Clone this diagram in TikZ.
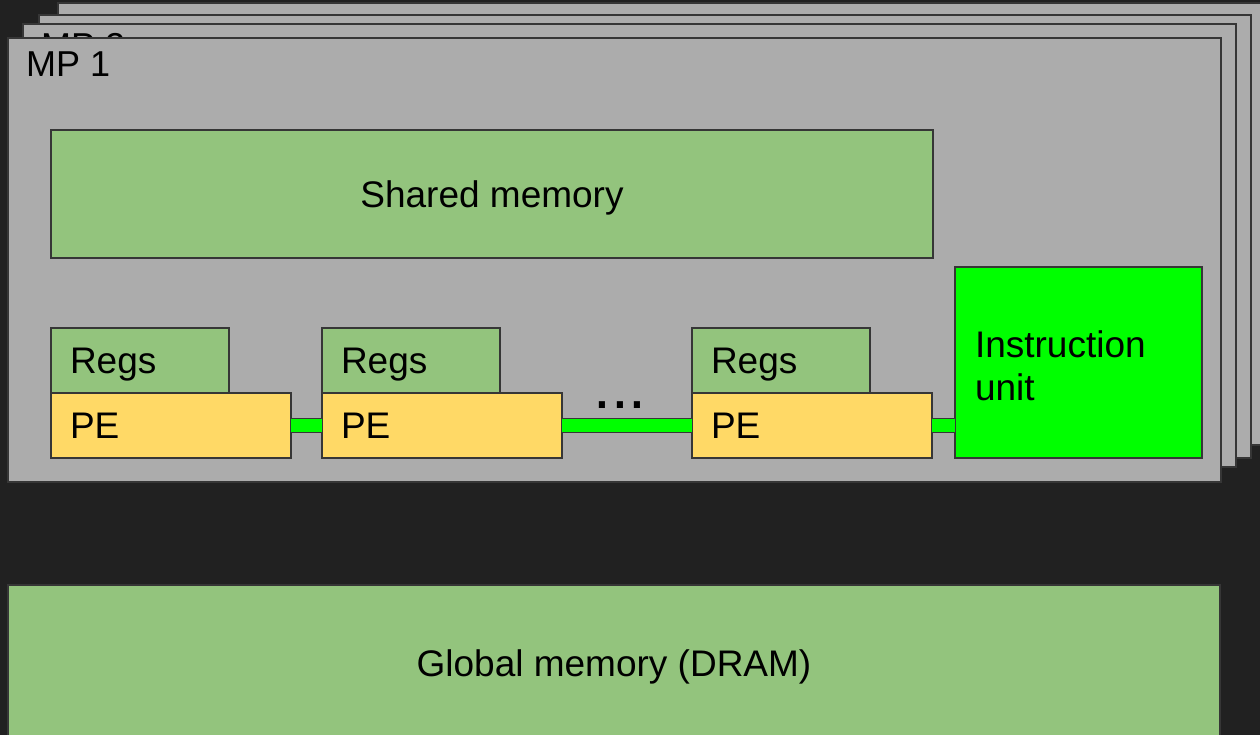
\documentclass[tikz,border=0pt]{standalone}
\usepackage{fontspec}
\setmainfont{Liberation Sans}
\definecolor{bg}{HTML}{212121}
\definecolor{mpgray}{HTML}{ACACAC}
\definecolor{edge}{HTML}{363636}
\definecolor{memgreen}{HTML}{93C47D}
\definecolor{pefill}{HTML}{FFD966}
\definecolor{iugreen}{HTML}{00FF00}
\begin{document}
\begin{tikzpicture}[x=1pt,y=-1pt,
  base/.style={draw=edge, line width=1.5pt, anchor=north west, inner sep=0pt, outer sep=0pt,
    font=\fontsize{37}{43}\selectfont},
  capc/.style={text height=26.5pt, text depth=0pt},
  mpbox/.style={base, fill=mpgray},
  membox/.style={base, capc, fill=memgreen, align=center},
  regbox/.style={base, capc, fill=memgreen, text width=140pt, inner xsep=19pt, align=left, minimum height=65pt},
  pebox/.style={base, capc, fill=pefill, text width=202pt, inner xsep=19pt, align=left, minimum height=65pt},
  iubox/.style={base, fill=iugreen, text width=207pt, inner xsep=20pt, align=left, minimum height=191pt},
  mptext/.style={anchor=base west, inner sep=0pt, font=\fontsize{36}{43}\selectfont},
  link/.style={draw=edge, line width=1.5pt, double=iugreen, double distance=12.5pt}
]
\useasboundingbox (0,0) rectangle (1260,735);
\fill[bg] (0,0) rectangle (1260,735);

% stacked multiprocessors, back to front
\node[mpbox, minimum width=1210pt, minimum height=442pt] (mp4) at (58,3) {};
\node[mpbox, minimum width=1212pt, minimum height=443pt] (mp3) at (39,15) {};
\node[mpbox, minimum width=1213pt, minimum height=443pt] (mp2) at (23,24) {};
\node[mptext] (mp2t) at (41,59) {MP 2};
\node[mpbox, minimum width=1213pt, minimum height=444pt] (mp1) at (8,38) {};
\node[mptext] (mp1t) at (26,77) {MP 1};

% shared memory
\node[membox, minimum width=882pt, minimum height=128pt] (shm) at (51,130) {Shared memory};

% registers and processing elements
\node[regbox] (r1) at (51,328) {Regs};
\node[regbox] (r2) at (322,328) {Regs};
\node[regbox] (r3) at (692,328) {Regs};
\node[pebox] (pe1) at (51,393) {PE};
\node[pebox] (pe2) at (322,393) {PE};
\node[pebox] (pe3) at (692,393) {PE};

% instruction unit
\node[iubox] (iu) at (955,267) {\rule{0pt}{32.5pt}Instruction\\unit};

% links
\draw[link] (pe1.east) -- (pe2.west);
\draw[link] (pe2.east) -- (pe3.west);
\draw[link] (pe3.east) -- (pe3.east -| iu.west);

% ellipsis
\node[anchor=base, inner sep=0pt, font=\fontsize{64}{70}\selectfont] (dots) at (620,408) {...};

% global memory
\node[membox, minimum width=1212pt, minimum height=156pt] (gm) at (8,585) {Global memory (DRAM)};
\end{tikzpicture}
\end{document}
